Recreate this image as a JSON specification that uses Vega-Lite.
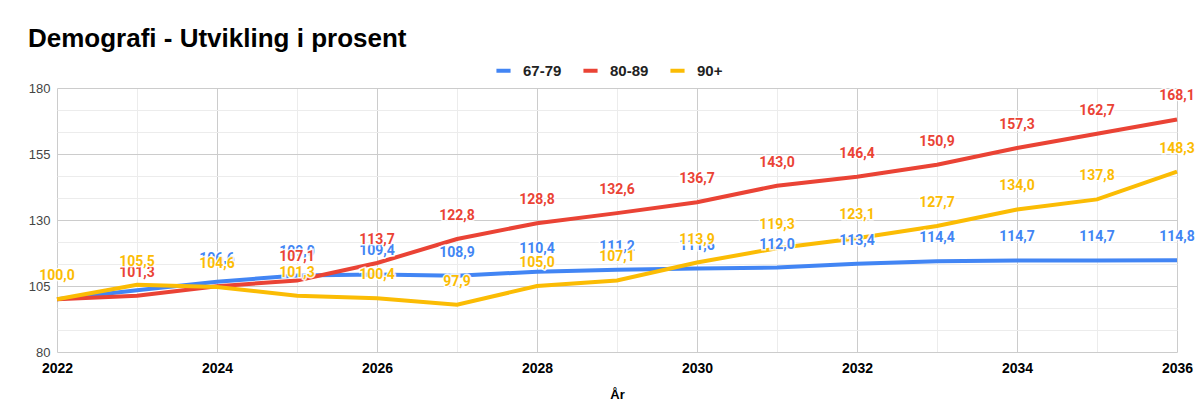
{
  "$schema": "https://vega.github.io/schema/vega-lite/v6.json",
  "width": 1120,
  "height": 264,
  "autosize": {"type": "none"},
  "padding": {"left": 57, "top": 88, "right": 27, "bottom": 62},
  "background": "white",
  "title": {
    "text": "Demografi - Utvikling i prosent",
    "anchor": "start",
    "frame": "group",
    "dx": -29,
    "font": "Liberation Sans",
    "fontSize": 26,
    "fontWeight": "bold",
    "color": "#000000",
    "offset": 9
  },
  "config": {
    "locale": {"number": {"decimal": ",", "thousands": " ", "grouping": [3], "currency": ["", " kr"]}},
    "view": {"stroke": null},
    "axis": {"domain": false, "ticks": false}
  },
  "data": {
    "values": [
      {"year": 2022, "group": "67-79", "value": 100.0},
      {"year": 2023, "group": "67-79", "value": 103.4},
      {"year": 2024, "group": "67-79", "value": 106.6},
      {"year": 2025, "group": "67-79", "value": 109.0},
      {"year": 2026, "group": "67-79", "value": 109.4},
      {"year": 2027, "group": "67-79", "value": 108.9},
      {"year": 2028, "group": "67-79", "value": 110.4},
      {"year": 2029, "group": "67-79", "value": 111.2},
      {"year": 2030, "group": "67-79", "value": 111.6},
      {"year": 2031, "group": "67-79", "value": 112.0},
      {"year": 2032, "group": "67-79", "value": 113.4},
      {"year": 2033, "group": "67-79", "value": 114.4},
      {"year": 2034, "group": "67-79", "value": 114.7},
      {"year": 2035, "group": "67-79", "value": 114.7},
      {"year": 2036, "group": "67-79", "value": 114.8},
      {"year": 2022, "group": "80-89", "value": 100.0},
      {"year": 2023, "group": "80-89", "value": 101.3},
      {"year": 2024, "group": "80-89", "value": 104.9},
      {"year": 2025, "group": "80-89", "value": 107.1},
      {"year": 2026, "group": "80-89", "value": 113.7},
      {"year": 2027, "group": "80-89", "value": 122.8},
      {"year": 2028, "group": "80-89", "value": 128.8},
      {"year": 2029, "group": "80-89", "value": 132.6},
      {"year": 2030, "group": "80-89", "value": 136.7},
      {"year": 2031, "group": "80-89", "value": 143.0},
      {"year": 2032, "group": "80-89", "value": 146.4},
      {"year": 2033, "group": "80-89", "value": 150.9},
      {"year": 2034, "group": "80-89", "value": 157.3},
      {"year": 2035, "group": "80-89", "value": 162.7},
      {"year": 2036, "group": "80-89", "value": 168.1},
      {"year": 2022, "group": "90+", "value": 100.0},
      {"year": 2023, "group": "90+", "value": 105.5},
      {"year": 2024, "group": "90+", "value": 104.6},
      {"year": 2025, "group": "90+", "value": 101.3},
      {"year": 2026, "group": "90+", "value": 100.4},
      {"year": 2027, "group": "90+", "value": 97.9},
      {"year": 2028, "group": "90+", "value": 105.0},
      {"year": 2029, "group": "90+", "value": 107.1},
      {"year": 2030, "group": "90+", "value": 113.9},
      {"year": 2031, "group": "90+", "value": 119.3},
      {"year": 2032, "group": "90+", "value": 123.1},
      {"year": 2033, "group": "90+", "value": 127.7},
      {"year": 2034, "group": "90+", "value": 134.0},
      {"year": 2035, "group": "90+", "value": 137.8},
      {"year": 2036, "group": "90+", "value": 148.3}
    ]
  },
  "encoding": {
    "x": {
      "field": "year",
      "type": "quantitative",
      "scale": {"domain": [2022, 2036], "nice": false, "zero": false},
      "axis": {
        "values": [2022, 2023, 2024, 2025, 2026, 2027, 2028, 2029, 2030, 2031, 2032, 2033, 2034, 2035, 2036],
        "format": "d",
        "labelExpr": "datum.value % 2 == 0 ? datum.label : ''",
        "labelFont": "Liberation Sans",
        "labelFontSize": 14,
        "labelFontWeight": "bold",
        "labelColor": "#000000",
        "labelPadding": 9,
        "labelFlush": false,
        "labelOverlap": false,
        "gridColor": {"condition": {"test": "datum.value % 2 == 0", "value": "#cccccc"}, "value": "#ececec"},
        "title": "År",
        "titleFont": "Liberation Sans",
        "titleFontSize": 13,
        "titleFontWeight": "bold",
        "titleColor": "#000000",
        "titlePadding": 13
      }
    },
    "y": {
      "field": "value",
      "type": "quantitative",
      "scale": {"domain": [80, 180], "nice": false, "zero": false},
      "axis": {
        "values": [80, 88.3333, 96.6667, 105, 113.3333, 121.6667, 130, 138.3333, 146.6667, 155, 163.3333, 171.6667, 180],
        "labelExpr": "abs((datum.value - 80) % 25) < 0.01 ? format(datum.value, 'd') : ''",
        "labelFont": "Liberation Sans",
        "labelFontSize": 13,
        "labelColor": "#444444",
        "labelPadding": 7,
        "gridColor": {"condition": {"test": "abs((datum.value - 80) % 25) < 0.01", "value": "#cccccc"}, "value": "#ececec"},
        "title": null
      }
    },
    "color": {
      "field": "group",
      "type": "nominal",
      "scale": {"domain": ["67-79", "80-89", "90+"], "range": ["#4285F4", "#EA4335", "#FBBC04"]},
      "legend": {
        "title": null,
        "orient": "none",
        "direction": "horizontal",
        "legendX": 437,
        "legendY": -27,
        "symbolType": "stroke",
        "symbolSize": 200,
        "symbolStrokeWidth": 4,
        "labelFont": "Liberation Sans",
        "labelFontSize": 15,
        "labelFontWeight": "bold",
        "labelColor": "#222222",
        "labelOffset": 10,
        "columnPadding": 13,
        "symbolOffset": 0
      }
    }
  },
  "layer": [
    {"mark": {"type": "line", "strokeWidth": 4}},
    {
      "transform": [{"filter": "datum.group == '67-79' && datum.year != 2022 && datum.year != 2023"}],
      "mark": {"type": "text", "dy": -23, "font": "Roboto", "fontSize": 14, "fontWeight": "bold", "stroke": "white", "strokeWidth": 3, "strokeOpacity": 0.9},
      "encoding": {"text": {"field": "value", "type": "quantitative", "format": ".1f"}, "color": {"value": "white"}}
    },
    {
      "transform": [{"filter": "datum.group == '67-79' && datum.year != 2022 && datum.year != 2023"}],
      "mark": {"type": "text", "dy": -23, "font": "Roboto", "fontSize": 14, "fontWeight": "bold"},
      "encoding": {"text": {"field": "value", "type": "quantitative", "format": ".1f"}}
    },
    {
      "transform": [{"filter": "datum.group == '80-89' && datum.year != 2022 && datum.year != 2024"}],
      "mark": {"type": "text", "dy": -23, "font": "Roboto", "fontSize": 14, "fontWeight": "bold", "stroke": "white", "strokeWidth": 3, "strokeOpacity": 0.9},
      "encoding": {"text": {"field": "value", "type": "quantitative", "format": ".1f"}, "color": {"value": "white"}}
    },
    {
      "transform": [{"filter": "datum.group == '80-89' && datum.year != 2022 && datum.year != 2024"}],
      "mark": {"type": "text", "dy": -23, "font": "Roboto", "fontSize": 14, "fontWeight": "bold"},
      "encoding": {"text": {"field": "value", "type": "quantitative", "format": ".1f"}}
    },
    {
      "transform": [{"filter": "datum.group == '90+'"}],
      "mark": {"type": "text", "dy": -23, "font": "Roboto", "fontSize": 14, "fontWeight": "bold", "stroke": "white", "strokeWidth": 3, "strokeOpacity": 0.9},
      "encoding": {"text": {"field": "value", "type": "quantitative", "format": ".1f"}, "color": {"value": "white"}}
    },
    {
      "transform": [{"filter": "datum.group == '90+'"}],
      "mark": {"type": "text", "dy": -23, "font": "Roboto", "fontSize": 14, "fontWeight": "bold"},
      "encoding": {"text": {"field": "value", "type": "quantitative", "format": ".1f"}}
    }
  ]
}
